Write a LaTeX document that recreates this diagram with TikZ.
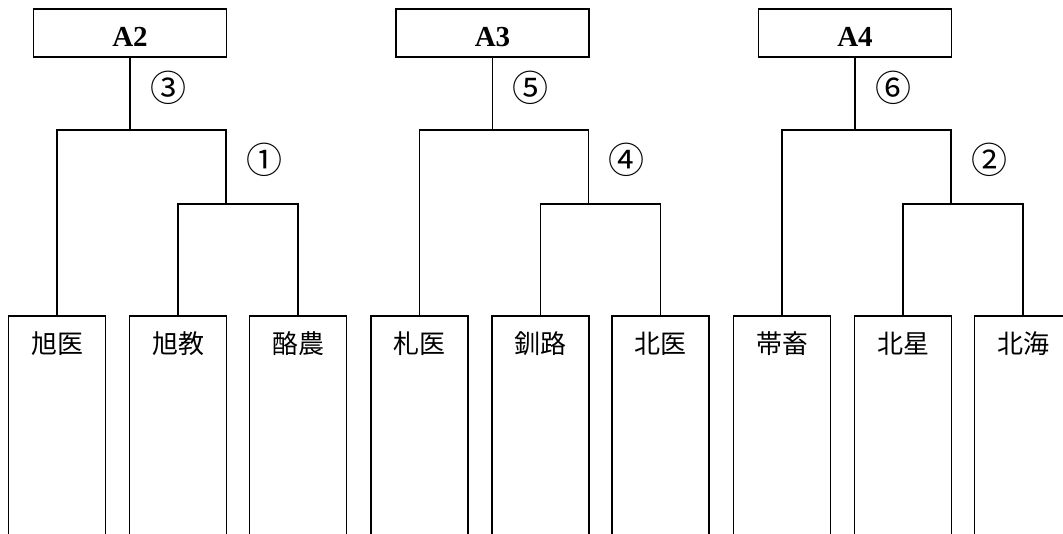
\documentclass[tikz,border=0pt]{standalone}
\usepackage{fontspec}
\newfontfamily\jpfont{Noto Sans CJK JP}
\newfontfamily\headfont{Liberation Serif}

\tikzset{
  headbox/.style={draw, line width=1.8pt, minimum width=193pt, minimum height=48pt,
    inner sep=0pt, text height=28pt, text depth=0pt, font=\headfont\bfseries\fontsize{29}{31}\selectfont},
  teambox/.style={draw, line width=1.8pt, anchor=north, minimum width=97pt, inner xsep=0pt,
    inner ysep=10pt, text height=28pt, text depth=205pt, font=\jpfont\fontsize{26}{28}\selectfont},
  roundnum/.style={font=\jpfont\fontsize{36}{38}\selectfont},
  bracket/.style={line width=1.8pt}
}

\begin{document}
\begin{tikzpicture}[x=1pt, y=-1pt]
  \clip (0,0) rectangle (1063,534);
  \useasboundingbox (0,0) rectangle (1063,534);

  % three groups, each one final and one semi-final
  \foreach \g/\head/\ta/\tb/\tc/\up/\lo in {0/A2/旭医/旭教/酪農/③/①, 1/A3/札医/釧路/北医/⑤/④, 2/A4/帯畜/北星/北海/⑥/②}{
    \pgfmathsetmacro{\off}{362.5*\g}
    \node[headbox] (h\g) at (\off+130,33) {\head};
    \node[teambox] (a\g) at (\off+57,315) {\ta};
    \node[teambox] (b\g) at (\off+178,315) {\tb};
    \node[teambox] (c\g) at (\off+298,315) {\tc};
    \coordinate (s\g) at (\off+226,204);
    \coordinate (f\g) at (\off+130,130);
    \draw[bracket] (b\g.north) |- (s\g) -| (c\g.north);
    \draw[bracket] (a\g.north) |- (f\g) -| (s\g);
    \draw[bracket] (h\g.south) -- (f\g);
    \node[roundnum] (u\g) at (\off+168,88) {\up};
    \node[roundnum] (l\g) at (\off+264,160) {\lo};
  }
\end{tikzpicture}
\end{document}
